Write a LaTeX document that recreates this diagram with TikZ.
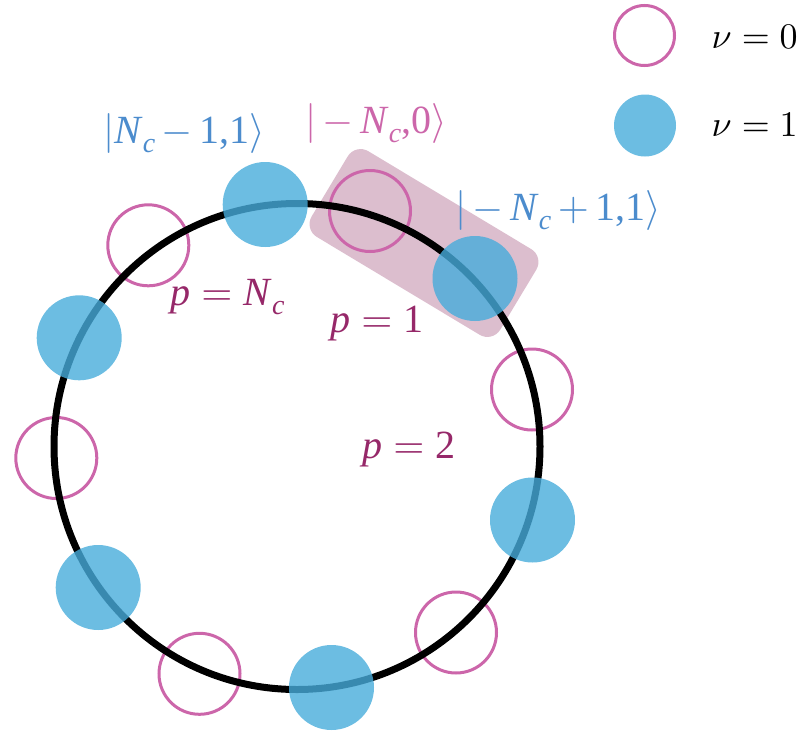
\documentclass[tikz,border=0pt]{standalone}
\usepackage{fontspec}
\newfontfamily\tms{Liberation Serif}
\definecolor{pinkc}{RGB}{204,102,170}
\definecolor{bluec}{RGB}{71,172,219}
\definecolor{rectc}{RGB}{220,190,206}
\definecolor{plabc}{RGB}{150,40,105}
\definecolor{btext}{RGB}{76,140,205}
\newcommand{\lblfont}{\tms\fontsize{40}{44}\selectfont}
\newcommand{\Nsub}{\textit{N}\raisebox{-9pt}{\fontsize{28}{30}\selectfont\textit{c}}}
\newcommand{\bsp}{\hspace{6.5pt}}
\newcommand{\rsp}{\hspace{11.1pt}}
\newcommand{\cmsym}[1]{\scalebox{4}{\normalsize$#1$}}
\tikzset{
  emptyc/.style={circle, draw=pinkc, line width=3pt, minimum size=81pt, inner sep=0pt},
  fullc/.style={circle, fill=bluec, fill opacity=0.8, minimum size=85pt, inner sep=0pt},
  legempty/.style={circle, draw=pinkc, line width=3pt, minimum size=60pt, inner sep=0pt},
  legfull/.style={circle, fill=bluec, fill opacity=0.8, minimum size=62pt, inner sep=0pt},
  ringnode/.style={circle, draw=black, line width=7pt, minimum size=486pt, inner sep=0pt},
  lbl/.style={anchor=base west, inner sep=0pt, font=\lblfont},
  legtxt/.style={anchor=west, inner sep=0pt, scale=3.6},
}
\begin{document}
\begin{tikzpicture}[x=1pt,y=-1pt]
\useasboundingbox (0,0) rectangle (806,731);
% highlight box
\node[rectangle, rounded corners=15pt, minimum width=220pt, minimum height=100pt,
      inner sep=0pt, rotate=-31, fill=rectc] (box) at (424,243) {};
% empty (nu=0) circles
\node[emptyc] (e1) at (370,211) {};
\node[emptyc] (e2) at (532,389.5) {};
\node[emptyc] (e3) at (456,632.5) {};
\node[emptyc] (e4) at (199.5,673.8) {};
\node[emptyc] (e5) at (56.3,458) {};
\node[emptyc] (e6) at (148.3,245.3) {};
% ring
\node[ringnode] (ring) at (297,446.5) {};
% filled (nu=1) circles
\node[fullc] (f1) at (265.2,204.5) {};
\node[fullc] (f2) at (475,278.5) {};
\node[fullc] (f3) at (532.5,520) {};
\node[fullc] (f4) at (331.5,687.5) {};
\node[fullc] (f5) at (98.2,587.5) {};
\node[fullc] (f6) at (79.2,337.8) {};
% legend
\node[legempty] (le) at (644.5,35.5) {};
\node[legfull] (lf) at (645,125.5) {};
\node[legtxt] (lt0) at (711,37) {$\nu = 0$};
\node[legtxt] (lt1) at (711,125) {$\nu = 1$};
% state labels
\node[lbl, text=btext] (s1) at (103,143) {\cmsym{|}\Nsub\bsp\cmsym{-}\bsp1,1\cmsym{\rangle}};
\node[lbl, text=pinkc] (s2) at (305,133) {\cmsym{|}\bsp\cmsym{-}\bsp\Nsub,0\cmsym{\rangle}};
\node[lbl, text=btext] (s3) at (455,220) {\cmsym{|}\bsp\cmsym{-}\bsp\Nsub\bsp\cmsym{+}\bsp1,1\cmsym{\rangle}};
% p labels
\node[lbl, text=plabc] (p1) at (170,305) {\textit{p}\rsp\cmsym{=}\rsp\Nsub};
\node[lbl, text=plabc] (p2) at (330,332) {\textit{p}\rsp\cmsym{=}\rsp1};
\node[lbl, text=plabc] (p3) at (362,458) {\textit{p}\rsp\cmsym{=}\rsp2};
\end{tikzpicture}
\end{document}
